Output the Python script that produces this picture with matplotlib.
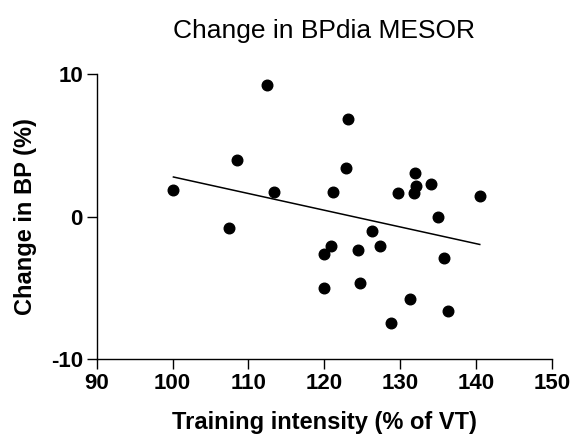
import numpy as np
import matplotlib
matplotlib.use("Agg")
import matplotlib.pyplot as plt

plt.rcParams['font.family'] = ['Liberation Sans', 'DejaVu Sans']
plt.rcParams['axes.unicode_minus'] = False

# training intensity (% of VT) vs change in BP (%)
intensity = [100.1, 112.5, 108.5, 113.4, 107.4, 119.9, 120.0,
             123.1, 122.8, 121.1, 129.7, 132.0, 132.1, 131.8, 134.1,
             140.5, 135.0, 126.3, 120.9, 124.5, 127.4, 135.8, 124.7,
             131.3, 136.3, 128.8]
change_bp = [1.84, 9.23, 3.99, 1.73, -0.82, -2.62, -5.00,
             6.85, 3.43, 1.73, 1.66, 3.06, 2.12, 1.64, 2.29,
             1.45, -0.02, -0.98, -2.05, -2.31, -2.08, -2.92, -4.63,
             -5.79, -6.59, -7.48]

x = np.array(intensity)
y = np.array(change_bp)
slope, intercept = np.polyfit(x, y, 1)
xf = np.array([x.min(), x.max()])

fig = plt.figure(figsize=(5.73, 4.36), dpi=100)
ax = fig.add_axes([0.169, 0.176, 0.794, 0.654])
ax.scatter(x, y, s=58, color='black', zorder=3)
ax.plot(xf, slope * xf + intercept, color='black', lw=1.1)

ax.set_xlim(90, 150)
ax.set_ylim(-10, 10)
ax.set_xticks([90, 100, 110, 120, 130, 140, 150])
ax.set_yticks([-10, 0, 10])
ax.spines['top'].set_visible(False)
ax.spines['right'].set_visible(False)
for s in ['left', 'bottom']:
    ax.spines[s].set_linewidth(1.0)
ax.tick_params(width=1.0, length=7, labelsize=16, pad=3)
for lab in ax.get_xticklabels() + ax.get_yticklabels():
    lab.set_fontweight('bold')

ax.set_xlabel("Training intensity (% of VT)", fontsize=17, fontweight='bold', labelpad=12)
ax.set_ylabel("Change in BP (%)", fontsize=17, fontweight='bold', labelpad=10)
fig.text(0.566, 0.928, "Change in BPdia MESOR", fontsize=19, ha='center', va='center')

fig.savefig("out.png", dpi=100)
